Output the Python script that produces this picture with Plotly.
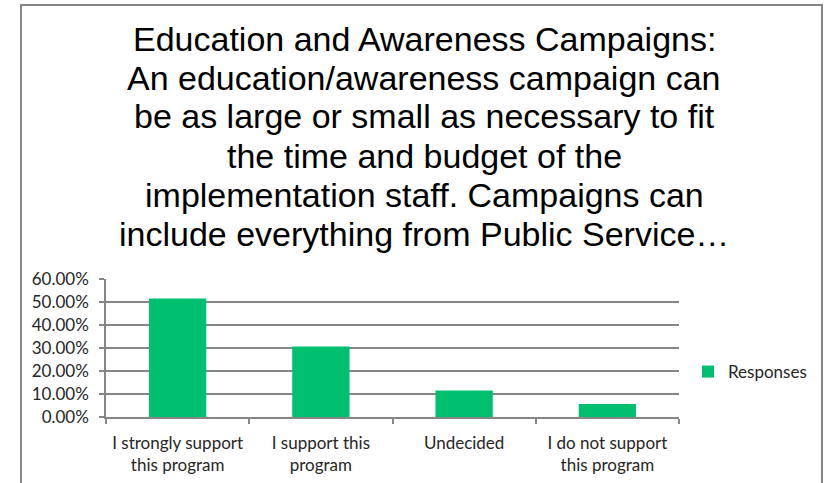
import plotly.graph_objects as go

categories = ["I strongly support<br>this program", "I support this<br>program", "Undecided", "I do not support<br>this program"]
responses = [0.515, 0.306, 0.115, 0.056]
series_name = "Responses"
y_ticks = [0, 0.1, 0.2, 0.3, 0.4, 0.5, 0.6]
title_lines = [
    "Education and Awareness Campaigns:",
    "An education/awareness campaign can",
    "be as large or small as necessary to fit",
    "the time and budget of the",
    "implementation staff. Campaigns can",
    "include everything from Public Service…",
]

W, H = 829, 483
L, R, T, B = 106, 150, 279, 66
pw = W - L - R
ph = H - T - B


def px_x(p):
    return (p - L) / pw


def px_y(p):
    return (H - B - p) / ph


fig = go.Figure()
fig.add_trace(go.Bar(x=categories, y=responses, name=series_name,
                     marker=dict(color="#00BF6F", line=dict(width=0)),
                     showlegend=True))

annotations = []
first_baseline, line_step = 49.5, 39.0
for i, line in enumerate(title_lines):
    baseline = first_baseline + i * line_step
    annotations.append(dict(
        text=line, xref="paper", yref="paper", x=px_x(424), y=px_y(baseline - 11),
        xanchor="center", yanchor="middle", showarrow=False,
        font=dict(family="Liberation Sans, Arial, sans-serif", size=34, color="#000000")))

fig.update_layout(
    width=W, height=H,
    margin=dict(l=L, r=R, t=T, b=B, autoexpand=False),
    paper_bgcolor="white", plot_bgcolor="white",
    bargap=0.6,
    annotations=annotations,
    showlegend=True,
    legend=dict(x=px_x(688), y=px_y(372), xanchor="left", yanchor="middle",
                font=dict(family="Lato, sans-serif", size=17, color="#262626"),
                itemwidth=30, bgcolor="rgba(0,0,0,0)"),
    xaxis=dict(type="category", showline=True, linecolor="#868686", linewidth=1.5,
               ticks="outside", tickson="boundaries", ticklen=5, tickcolor="#868686", tickwidth=1.5,
               ticklabelstandoff=10, automargin=False,
               showgrid=False, tickfont=dict(family="Lato, sans-serif", size=17, color="#262626")),
    yaxis=dict(range=[0, 0.6], tickvals=y_ticks, tickformat=".2%", showline=True,
               linecolor="#868686", linewidth=1.5, ticks="outside", ticklen=5,
               tickcolor="#868686", tickwidth=1.5, ticklabelstandoff=7, automargin=False,
               showgrid=True, gridcolor="#868686", gridwidth=1.5, zeroline=False,
               tickfont=dict(family="Lato, sans-serif", size=17, color="#262626")),
    shapes=[dict(type="rect", xref="paper", yref="paper",
                 x0=px_x(21), x1=px_x(822), y0=px_y(495), y1=px_y(5),
                 line=dict(color="#868686", width=2), fillcolor="rgba(0,0,0,0)", layer="below")],
)

fig.write_html("out.html", config={"displayModeBar": False},
               post_script="document.body.style.margin='0';document.body.style.overflow='hidden';")
